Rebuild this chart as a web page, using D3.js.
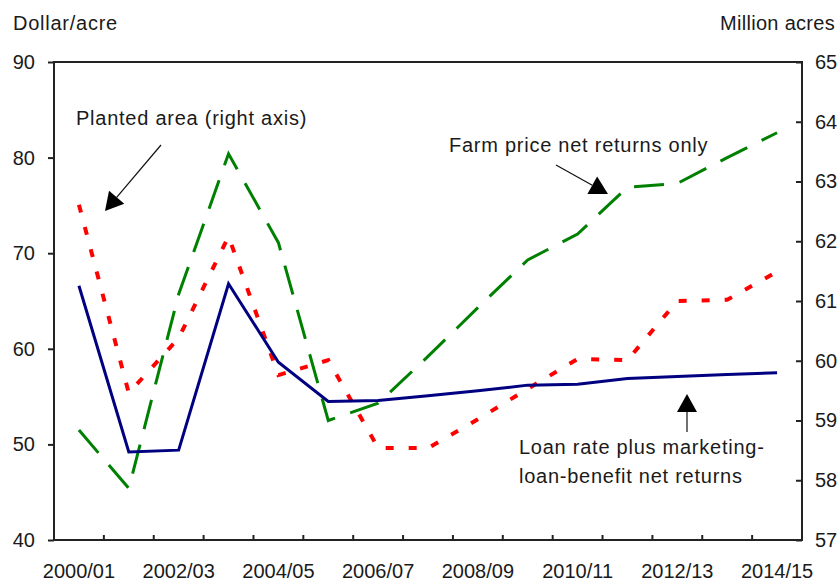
<!DOCTYPE html>
<html>
  <head>
    <meta charset="utf-8">
    <title>Net returns and planted area</title>
    <style>
      body { margin: 0; background: #fff; }
      text { font-family: "Liberation Sans", Arial, sans-serif; fill: #1a1a1a; }
    </style>
  </head>
  <body>
    <svg width="839" height="583"></svg>
    <script src="https://d3js.org/d3.v7.min.js"></script>
    <script>
      // marketing years
      var years = ['2000/01', '2001/02', '2002/03', '2003/04', '2004/05', '2005/06', '2006/07', '2007/08',
                   '2008/09', '2009/10', '2010/11', '2011/12', '2012/13', '2013/14', '2014/15'];
      var yearLabels = ['2000/01', '2002/03', '2004/05', '2006/07', '2008/09', '2010/11', '2012/13', '2014/15'];

      // dollar/acre (left axis)
      var farmPrice = [51.5, 45.4, 65.7, 80.4, 71.1, 52.5, 54.3, 59.2, 64.3, 69.3, 72.0, 76.9, 77.3, 80.0, 82.6];
      var loanRate  = [66.6, 49.2, 49.4, 66.8, 58.6, 54.5, 54.6, 55.1, 55.6, 56.2, 56.3, 56.9, 57.1, 57.3, 57.5];
      // million acres (right axis)
      var plantedArea = [62.61, 59.46, 60.38, 62.08, 59.76, 60.01, 58.54, 58.54, 59.02, 59.53, 60.03, 60.01, 61.0, 61.02, 61.49];

      var leftTicks = [40, 50, 60, 70, 80, 90];
      var rightTicks = [57, 58, 59, 60, 61, 62, 63, 64, 65];

      var svg = d3.select('svg');
      var plotL = 54, plotR = 802, plotT = 62, plotB = 540;

      var x = d3.scaleBand().domain(years).range([plotL, plotR]);
      var yL = d3.scaleLinear().domain([40, 90]).range([plotB, plotT]);
      var yR = d3.scaleLinear().domain([57, 65]).range([plotB, plotT]);
      var cx = function(d, i) { return x(years[i]) + x.bandwidth() / 2; };

      // left axis
      var gl = svg.append('g')
        .attr('transform', 'translate(' + plotL + ',0)')
        .call(d3.axisLeft(yL).tickValues(leftTicks).tickSize(6).tickPadding(13));
      // right axis, ticks point inward
      var gr = svg.append('g')
        .attr('transform', 'translate(' + plotR + ',0)')
        .call(d3.axisRight(yR).tickValues(rightTicks).tickSize(-6).tickPadding(13));
      // bottom labels
      var gb = svg.append('g')
        .attr('transform', 'translate(0,' + plotB + ')')
        .call(d3.axisBottom(x).tickSize(0).tickPadding(24)
          .tickFormat(function(d) { return yearLabels.indexOf(d) >= 0 ? d : ''; }));
      // bottom ticks sit between years, pointing up
      gb.selectAll('.bound')
        .data(years.slice(1))
        .enter()
        .append('line')
          .attr('class', 'bound')
          .attr('x1', function(d) { return x(d); })
          .attr('x2', function(d) { return x(d); })
          .attr('y1', 0)
          .attr('y2', -5)
          .attr('stroke', '#222')
          .attr('stroke-width', 2);

      [gl, gr, gb].forEach(function(g) {
        g.select('.domain').remove();
        g.selectAll('.tick line').attr('stroke', '#222').attr('stroke-width', 2);
        g.selectAll('text')
          .style('font-family', '"Liberation Sans", Arial, sans-serif')
          .style('font-size', '20px')
          .attr('fill', '#1a1a1a');
      });

      svg.append('rect')
        .attr('x', plotL).attr('y', plotT)
        .attr('width', plotR - plotL).attr('height', plotB - plotT)
        .attr('fill', 'none').attr('stroke', '#222').attr('stroke-width', 2);

      // series
      var lineL = d3.line().x(cx).y(function(d) { return yL(d); });
      var lineR = d3.line().x(cx).y(function(d) { return yR(d); });

      svg.append('path')
        .datum(plantedArea)
        .attr('d', lineR)
        .attr('fill', 'none')
        .attr('stroke', '#ff0000')
        .attr('stroke-width', 4)
        .attr('stroke-dasharray', '8,15');

      svg.append('path')
        .datum(farmPrice)
        .attr('d', lineL)
        .attr('fill', 'none')
        .attr('stroke', '#008000')
        .attr('stroke-width', 3)
        .attr('stroke-dasharray', '30,16');

      svg.append('path')
        .datum(loanRate)
        .attr('d', lineL)
        .attr('fill', 'none')
        .attr('stroke', '#000080')
        .attr('stroke-width', 3);

      // axis titles
      svg.append('text').attr('x', 13).attr('y', 29.5)
        .style('font-size', '20px').style('letter-spacing', '0.75px').text('Dollar/acre');
      svg.append('text').attr('x', 720).attr('y', 29.5)
        .style('font-size', '20px').style('letter-spacing', '0.3px').text('Million acres');

      // annotations
      var notes = [
        { lines: ['Planted area (right axis)'], x: 76, y: 125, from: [161, 145], to: [105, 211] },
        { lines: ['Farm price net returns only'], x: 449, y: 151.5, from: [556, 165], to: [608, 194] },
        { lines: ['Loan rate plus marketing-', 'loan-benefit net returns'], x: 519, y: 453.5, from: [687, 432], to: [687, 394] }
      ];

      notes.forEach(function(n) {
        n.lines.forEach(function(t, i) {
          svg.append('text')
            .attr('x', n.x).attr('y', n.y + i * 29)
            .style('font-size', '20px').style('letter-spacing', '0.75px')
            .text(t);
        });
        var dx = n.to[0] - n.from[0], dy = n.to[1] - n.from[1];
        var len = Math.sqrt(dx * dx + dy * dy);
        var ux = dx / len, uy = dy / len;
        var hl = 18, hw = 10;
        var bx = n.to[0] - ux * hl, by = n.to[1] - uy * hl;
        svg.append('line')
          .attr('x1', n.from[0]).attr('y1', n.from[1])
          .attr('x2', bx).attr('y2', by)
          .attr('stroke', '#111').attr('stroke-width', 1.2);
        svg.append('polygon')
          .attr('points', [
            [n.to[0], n.to[1]],
            [bx - uy * hw, by + ux * hw],
            [bx + uy * hw, by - ux * hw]
          ].map(function(p) { return p.join(','); }).join(' '))
          .attr('fill', '#000');
      });
    </script>
  </body>
</html>
